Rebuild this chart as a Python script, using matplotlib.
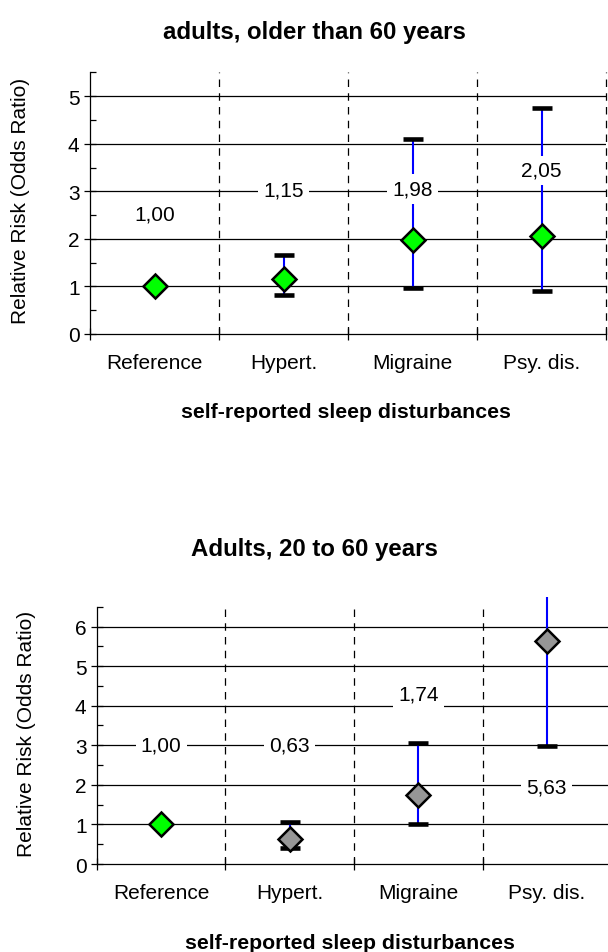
import numpy as np
import matplotlib
matplotlib.use("Agg")
import matplotlib.pyplot as plt
from matplotlib.patches import Rectangle

plt.rcParams['font.family'] = ['Liberation Sans', 'DejaVu Sans']

# categories shared by both panels
categories = ['Reference', 'Hypert.', 'Migraine', 'Psy. dis.']

# adults older than 60 years
old_or = [1.00, 1.15, 1.98, 2.05]
old_low = [np.nan, 0.81, 0.96, 0.90]
old_high = [np.nan, 1.65, 4.10, 4.75]
old_labels = ['1,00', '1,15', '1,98', '2,05']
old_label_y = [2.52, 3.02, 3.05, 3.44]

# adults 20 to 60 years
young_or = [1.00, 0.63, 1.74, 5.63]
young_low = [np.nan, 0.40, 1.01, 2.98]
young_high = [np.nan, 1.05, 3.05, 10.5]
young_labels = ['1,00', '0,63', '1,74', '5,63']
young_label_y = [3.0, 3.0, 4.3, 1.95]

marker_old = ['#00ff00', '#00ff00', '#00ff00', '#00ff00']
marker_young = ['#00ff00', '#969696', '#969696', '#969696']

FS = 15
FS_TITLE = 17.3
FS_XLAB = 15.3


def draw_panel(ax, title, vals, low, high, labels, label_y, colors, ymax,
               title_y, xlabel_x, xlabel_y, ylabel_x, ylabel_y):
    x = np.arange(1, len(categories) + 1)
    ax.set_xlim(0.5, 4.5)
    ax.set_ylim(0, ymax)

    # grid lines
    for yv in range(1, int(ymax) + 1):
        ax.axhline(yv, color='black', lw=0.9, zorder=1)
    for xv in [1.5, 2.5, 3.5, 4.5]:
        ax.axvline(xv, color='black', lw=0.9, ls=(0, (6, 5)), zorder=1, clip_on=False)

    # confidence intervals
    vals = np.array(vals)
    low = np.array(low)
    high = np.array(high)
    has = ~np.isnan(low)
    err = np.vstack([vals[has] - low[has], high[has] - vals[has]])
    line, caps, bars = ax.errorbar(x[has], vals[has], yerr=err, fmt='none',
                                   ecolor='#0000ff', elinewidth=1.5,
                                   capsize=7.5, capthick=3.3, zorder=2)
    # upper end of the Psy. dis. bar runs off the plot, like the original
    clip = Rectangle((0, 0), 1, 1.036, transform=ax.transAxes)
    for c in caps:
        c.set_markeredgecolor('black')
        c.set_markerfacecolor('black')
        c.set_clip_path(clip)
    for b in bars:
        b.set_clip_path(clip)

    for xi, v, col in zip(x, vals, colors):
        ax.plot(xi, v, marker='D', ms=12, mfc=col, mec='black', mew=1.8,
                ls='none', zorder=4, clip_on=False)

    for xi, lab, ly in zip(x, labels, label_y):
        ax.text(xi, ly, lab, ha='center', va='center', fontsize=FS, zorder=5,
                bbox=dict(boxstyle='square,pad=0.25', facecolor='white',
                          edgecolor='none'))

    # axes styling
    for s in ['top', 'right']:
        ax.spines[s].set_visible(False)
    ax.spines['left'].set_linewidth(0.9)
    ax.spines['bottom'].set_linewidth(0.9)

    ax.set_yticks(np.arange(0, int(ymax) + 1))
    ax.set_yticks(np.arange(0.5, ymax + 0.01, 1.0), minor=True)
    ax.tick_params(axis='y', which='major', direction='inout', length=9, width=0.9,
                   labelsize=FS, pad=3)
    ax.tick_params(axis='y', which='minor', direction='in', length=4.5, width=0.9)

    ax.set_xticks([0.5, 1.5, 2.5, 3.5, 4.5])
    ax.set_xticklabels([])
    ax.set_xticks(x, minor=True)
    ax.set_xticklabels(categories, minor=True)
    ax.tick_params(axis='x', which='major', direction='inout', length=9, width=0.9)
    ax.tick_params(axis='x', which='minor', length=0, labelsize=FS, pad=14)

    fig.text(ylabel_x, ylabel_y, 'Relative Risk (Odds Ratio)', rotation=90,
             ha='center', va='center', fontsize=FS)
    fig.text(0.517, title_y, title, ha='center', va='center', fontsize=FS_TITLE,
             fontweight='bold')
    fig.text(xlabel_x, xlabel_y, 'self-reported sleep disturbances', ha='center',
             va='center', fontsize=FS_XLAB, fontweight='bold')


fig = plt.figure(figsize=(6.08, 9.53), dpi=100)
ax1 = fig.add_axes([0.148, 0.6485, 0.849, 0.2745])
ax2 = fig.add_axes([0.1595, 0.0923, 0.8455, 0.27])

draw_panel(ax1, 'adults, older than 60 years', old_or, old_low, old_high,
           old_labels, old_label_y, marker_old, 5.5, 1 - 33 / 953,
           346 / 608, 1 - 413 / 953, 21 / 608, 1 - 201 / 953)
draw_panel(ax2, 'Adults, 20 to 60 years', young_or, young_low, young_high,
           young_labels, young_label_y, marker_young, 6.5, 1 - 550 / 953,
           350 / 608, 1 - 944 / 953, 27 / 608, 1 - 734 / 953)

fig.savefig('out.png', dpi=100)
